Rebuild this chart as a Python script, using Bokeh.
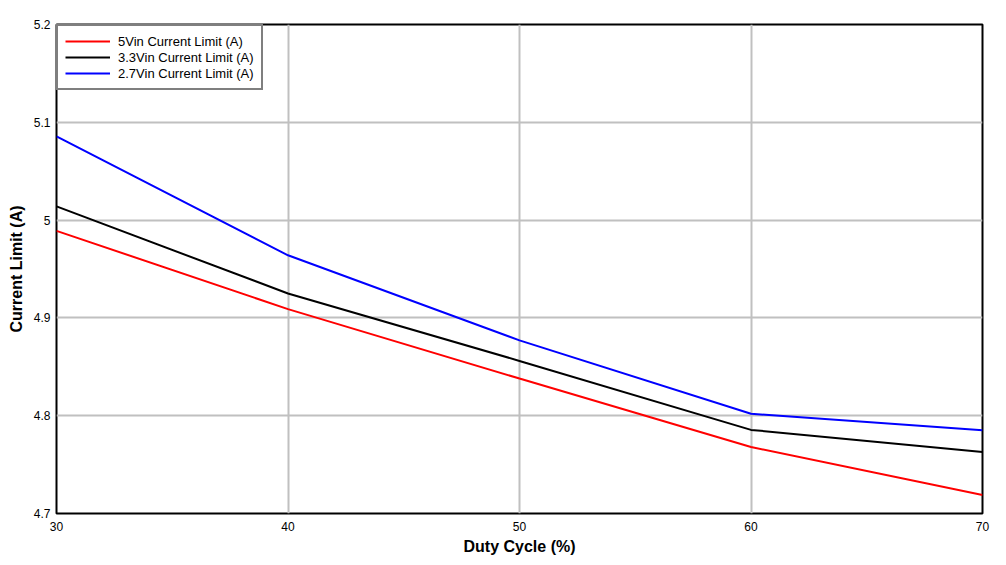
from bokeh.plotting import figure
from bokeh.models import Legend, LegendItem, FixedTicker, Range1d
from bokeh.embed import file_html
from bokeh.resources import INLINE

duty_cycle = [30, 40, 50, 60, 70]
limit_5vin = [4.989, 4.909, 4.838, 4.768, 4.719]
limit_3v3in = [5.014, 4.925, 4.856, 4.7855, 4.763]
limit_2v7in = [5.0855, 4.964, 4.877, 4.802, 4.785]
x_ticks = [30, 40, 50, 60, 70]
y_ticks = [4.7, 4.8, 4.9, 5.0, 5.1, 5.2]
y_tick_labels = {4.7: "4.7", 4.8: "4.8", 4.9: "4.9", 5.0: "5", 5.1: "5.1", 5.2: "5.2"}

FONT = "Liberation Sans"

p = figure(width=1006, height=565, output_backend="svg", toolbar_location=None,
           x_range=Range1d(30, 70), y_range=Range1d(4.7, 5.2),
           min_border_left=56, min_border_right=24, min_border_top=24, min_border_bottom=52)

p.background_fill_color = "white"
p.border_fill_color = "white"
p.outline_line_color = "black"
p.outline_line_width = 2

p.xgrid.grid_line_color = "#c0c0c0"
p.ygrid.grid_line_color = "#c0c0c0"
p.xgrid.grid_line_width = 2
p.ygrid.grid_line_width = 2

p.xaxis.ticker = FixedTicker(ticks=x_ticks)
p.yaxis.ticker = FixedTicker(ticks=y_ticks)
p.yaxis.major_label_overrides = y_tick_labels
for ax in (p.xaxis, p.yaxis):
    ax.axis_line_color = None
    ax.major_tick_line_color = None
    ax.minor_tick_line_color = None
    ax.major_tick_out = 0
    ax.major_tick_in = 0
    ax.major_label_text_font = FONT
    ax.major_label_text_font_size = "12px"
    ax.major_label_text_color = "black"
    ax.axis_label_text_font = FONT
    ax.axis_label_text_font_size = "16px"
    ax.axis_label_text_font_style = "bold"
    ax.axis_label_text_color = "black"
p.xaxis.major_label_standoff = 8
p.yaxis.major_label_standoff = 6
p.xaxis.axis_label = "Duty Cycle (%)"
p.yaxis.axis_label = "Current Limit (A)"
p.xaxis.axis_label_standoff = 4
p.yaxis.axis_label_standoff = 6

r1 = p.line(duty_cycle, limit_5vin, line_color="#ff0000", line_width=2)
r2 = p.line(duty_cycle, limit_3v3in, line_color="#000000", line_width=2)
r3 = p.line(duty_cycle, limit_2v7in, line_color="#0000ff", line_width=2)

legend = Legend(items=[
    LegendItem(label="5Vin Current Limit (A)", renderers=[r1]),
    LegendItem(label="3.3Vin Current Limit (A)", renderers=[r2]),
    LegendItem(label="2.7Vin Current Limit (A)", renderers=[r3]),
], location="top_left")
legend.margin = 0
legend.padding = 7
legend.spacing = 0
legend.border_line_color = "black"
legend.border_line_width = 2
legend.background_fill_color = "white"
legend.background_fill_alpha = 1
legend.label_text_font = FONT
legend.label_text_font_size = "13px"
legend.label_text_color = "black"
legend.glyph_width = 45
legend.glyph_height = 16
legend.label_height = 16
legend.label_standoff = 8
p.add_layout(legend, "center")

open("out.html", "w").write(file_html(p, INLINE))
